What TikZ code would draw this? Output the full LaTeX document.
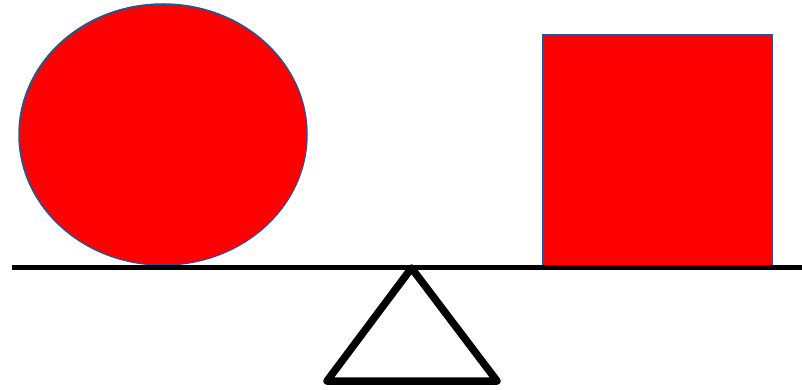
\documentclass[tikz,border=0pt]{standalone}
\usetikzlibrary{shapes.geometric}
\definecolor{shapeblue}{RGB}{47,82,143}
\definecolor{shapered}{RGB}{255,0,0}
\tikzset{
  redshape/.style={fill=shapered, draw=shapeblue, line width=1.5pt, inner sep=0pt, outer sep=0pt},
  beamline/.style={line width=5pt, black},
  fulcrum/.style={line width=7.5pt, black, line join=round, line cap=round}
}
\begin{document}
\begin{tikzpicture}[x=1pt,y=-1pt]
\useasboundingbox (0,0) rectangle (802,390);
\node[redshape, ellipse, minimum width=288pt, minimum height=261pt] (ball) at (163,134.5) {};
\node[redshape, rectangle, minimum width=229pt, minimum height=231pt] (box) at (657.5,150.5) {};
\coordinate (bl) at (12,267);
\coordinate (br) at (802,267);
\draw[beamline] (bl) -- (br);
\coordinate (apex) at (411.5,268);
\coordinate (baseL) at (327,381);
\coordinate (baseR) at (497,381);
\draw[fulcrum] (apex) -- (baseR) -- (baseL) -- cycle;
\end{tikzpicture}
\end{document}
